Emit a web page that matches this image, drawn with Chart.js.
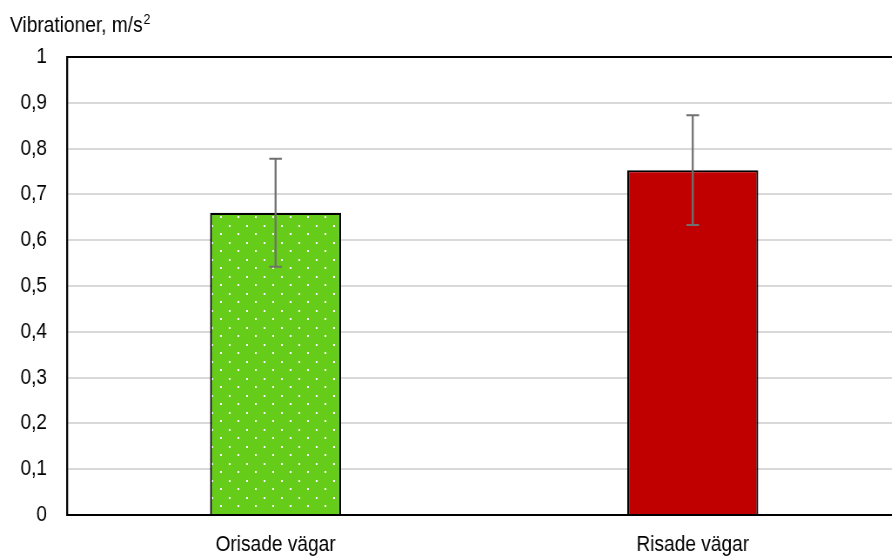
<!DOCTYPE html>
<html>
<head>
<meta charset="utf-8">
<script src="https://cdn.jsdelivr.net/npm/chart.js@4/dist/chart.umd.min.js"></script>
<style>
html,body{margin:0;padding:0;background:#fff;overflow:hidden;width:892px;height:556px;}
#wrap{width:892px;height:556px;position:relative;overflow:hidden;}
#c{position:absolute;left:0;top:0;transform:scaleX(0.87);transform-origin:0 0;}
</style>
</head>
<body>
<div id="wrap"><canvas id="c" width="1037" height="556"></canvas></div>
<script>
const categories = ['Orisade vägar', 'Risade vägar'];
const values = [0.66, 0.753];
const errors = [0.118, 0.12];
const yTickLabels = ['0','0,1','0,2','0,3','0,4','0,5','0,6','0,7','0,8','0,9','1'];
const axisTitle = 'Vibrationer, m/s';

function dotPattern() {
  const p = document.createElement('canvas');
  p.width = 20; p.height = 17;
  const g = p.getContext('2d');
  g.fillStyle = '#66CC1A';
  g.fillRect(0, 0, 20, 17);
  g.fillStyle = '#ffffff';
  g.fillRect(3, 4, 2, 2);
  g.fillRect(13, 12, 2, 2);
  return g.createPattern(p, 'repeat');
}

const FONT = "'Liberation Sans', Arial, sans-serif";

const errorBars = {
  id: 'errorBars',
  afterDatasetsDraw(chart) {
    const ctx = chart.ctx;
    const x = chart.scales.x, y = chart.scales.y;
    ctx.save();
    ctx.strokeStyle = '#707070';
    values.forEach((v, i) => {
      const cx = x.getPixelForValue(i);
      const top = y.getPixelForValue(v + errors[i]);
      const bot = y.getPixelForValue(v - errors[i]);
      ctx.lineWidth = 2.3;
      ctx.beginPath();
      ctx.moveTo(cx, top); ctx.lineTo(cx, bot);
      ctx.stroke();
      ctx.lineWidth = 2;
      ctx.beginPath();
      ctx.moveTo(cx - 7.3, top); ctx.lineTo(cx + 7.3, top);
      ctx.moveTo(cx - 7.3, bot); ctx.lineTo(cx + 7.3, bot);
      ctx.stroke();
    });
    ctx.restore();
  }
};

const titlePlugin = {
  id: 'yTitle',
  afterDraw(chart) {
    const ctx = chart.ctx;
    ctx.save();
    ctx.fillStyle = '#000';
    ctx.font = '22px ' + FONT;
    ctx.textBaseline = 'alphabetic';
    ctx.textAlign = 'left';
    ctx.fillText(axisTitle, 11.5, 31.5);
    const w = ctx.measureText(axisTitle).width;
    ctx.font = '14px ' + FONT;
    ctx.fillText('2', 11.5 + w + 1, 24);
    ctx.restore();
  }
};

const borderTop = {
  id: 'borderTop',
  afterDraw(chart) {
    const a = chart.chartArea, ctx = chart.ctx;
    ctx.save();
    ctx.strokeStyle = '#000';
    ctx.lineWidth = 2;
    ctx.beginPath();
    ctx.moveTo(a.left - 1, a.top);
    ctx.lineTo(a.right, a.top);
    ctx.stroke();
    ctx.restore();
  }
};

new Chart(document.getElementById('c'), {
  type: 'bar',
  data: {
    labels: categories,
    datasets: [{
      data: values,
      backgroundColor: [dotPattern(), '#C00000'],
      borderColor: '#000',
      borderWidth: 2.2,
      categoryPercentage: 1,
      barPercentage: 0.314
    }]
  },
  options: {
    responsive: false,
    animation: false,
    devicePixelRatio: 1,
    layout: { padding: { top: 57, right: 1, left: 0, bottom: 0 } },
    plugins: { legend: { display: false }, tooltip: { enabled: false }, title: { display: false } },
    scales: {
      x: {
        grid: { display: false },
        border: { display: true, color: '#000', width: 2 },
        ticks: { color: '#000', font: { family: FONT, size: 22 }, padding: 9 },
        afterFit(s) { s.height = 41; }
      },
      y: {
        min: 0, max: 1,
        ticks: {
          stepSize: 0.1,
          color: '#000',
          font: { family: FONT, size: 22 },
          padding: 23,
          callback: (v, i) => yTickLabels[i]
        },
        grid: { color: '#D9D9D9', lineWidth: 2, drawTicks: false },
        border: { display: true, color: '#000', width: 2.3 },
        afterFit(s) { s.width = 77; }
      }
    }
  },
  plugins: [errorBars, titlePlugin, borderTop]
});
</script>
</body>
</html>
